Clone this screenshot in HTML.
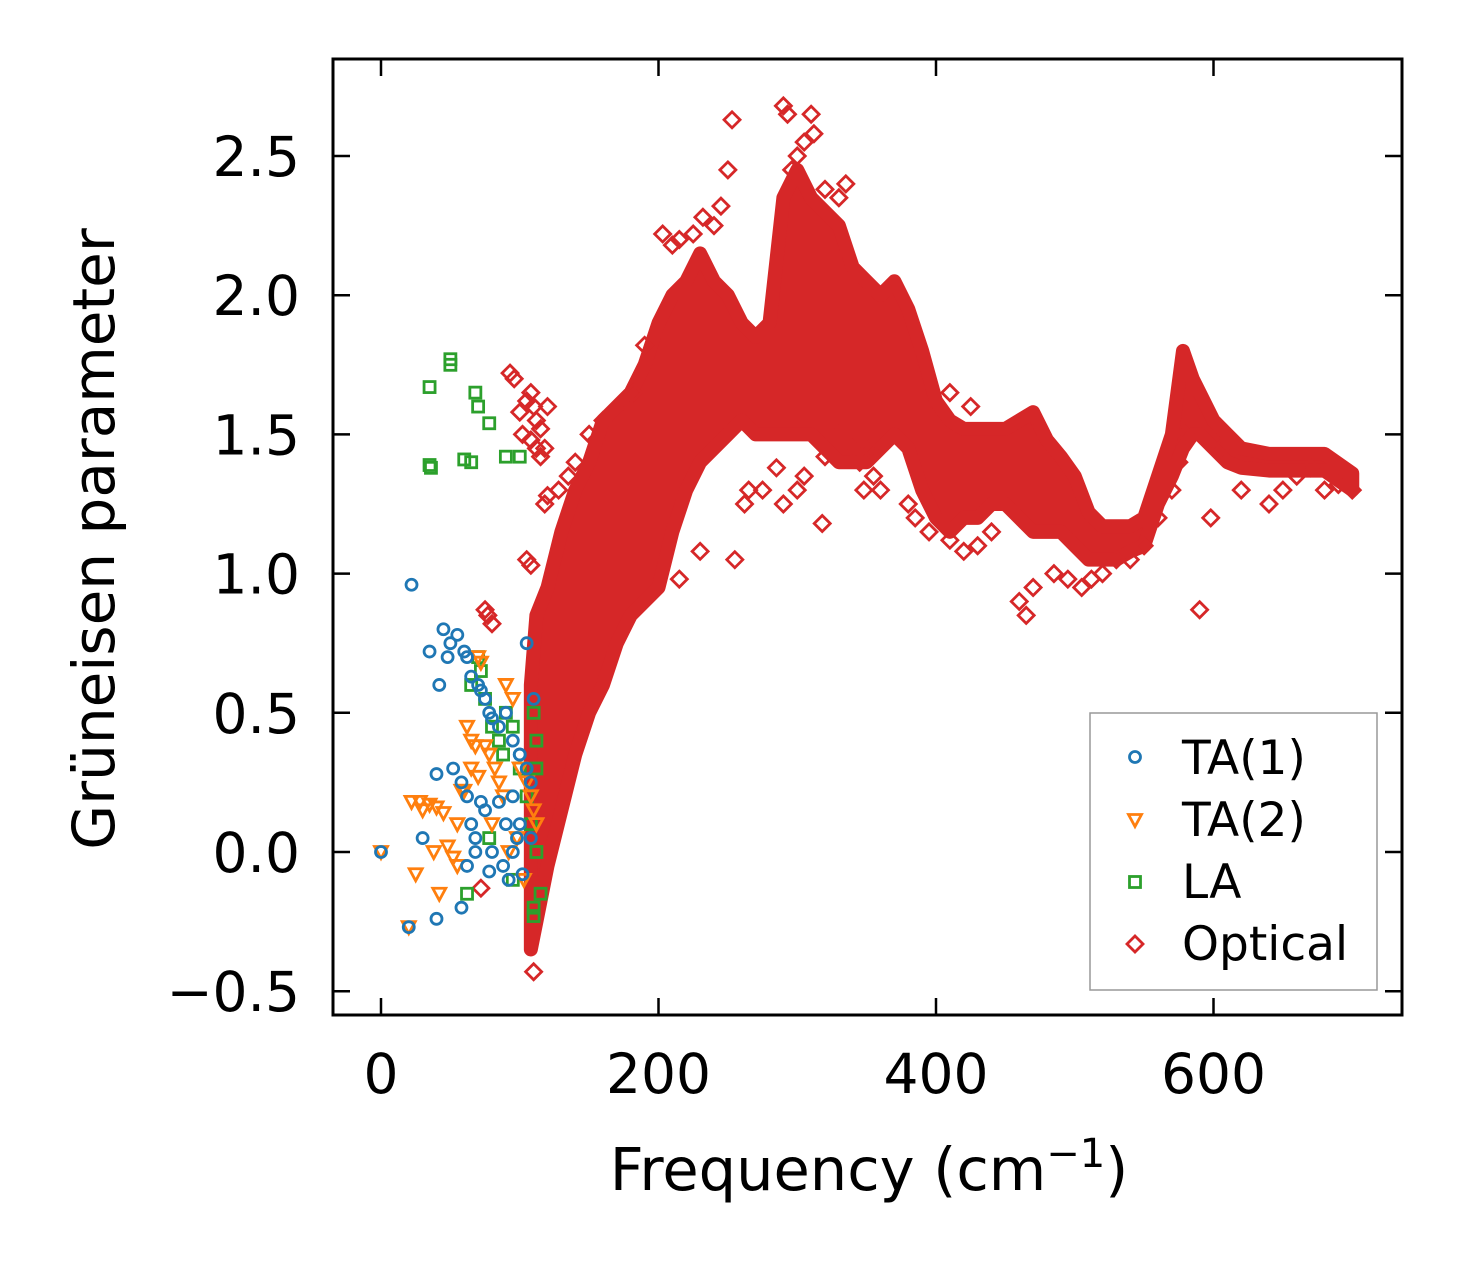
<!DOCTYPE html>
<html><head><meta charset="utf-8"><style>
html,body{margin:0;padding:0;background:#fff;}
svg{display:block;font-family:"DejaVu Sans","Liberation Sans",sans-serif;}
</style></head><body>
<svg id="chart" width="1462" height="1264" viewBox="0 0 1462 1264" xmlns="http://www.w3.org/2000/svg">
<rect x="0" y="0" width="1462" height="1264" fill="#fff"/>
<g id="bandLayer"></g>
<g id="markLayer"></g>
<g id="axisLayer"></g>
<text transform="translate(114,539) rotate(-90)" text-anchor="middle" font-size="58">Grüneisen parameter</text>
<text x="869" y="1190" text-anchor="middle" font-size="59">Frequency (cm<tspan dy="-23" font-size="40">−1</tspan><tspan dy="23">)</tspan></text>
<g>
<rect x="1090" y="713" width="287" height="277" fill="#fff" stroke="#999" stroke-width="1.5"/>
<g id="legendMarks"></g>
<text x="1182" y="774" font-size="47">TA(1)</text>
<text x="1182" y="836" font-size="47">TA(2)</text>
<text x="1182" y="898" font-size="47">LA</text>
<text x="1182" y="960" font-size="47">Optical</text>
</g>
</svg>
<script>
// ---- data ----
const xTicks=[0,200,400,600];
const yTicks=[-0.5,0,0.5,1.0,1.5,2.0,2.5];
const yTickLabels=["−0.5","0.0","0.5","1.0","1.5","2.0","2.5"];
// optical dense band envelope
const bandFreq=[108,112,120,130,140,150,160,170,180,190,200,210,220,230,240,250,260,270,280,290,300,310,320,330,340,350,360,370,380,390,400,410,420,430,440,450,460,470,480,490,500,510,520,530,540,550,560,570,578,585,590,600,610,620,640,660,680,700];
const bandLow=[-0.35,-0.25,-0.05,0.15,0.35,0.5,0.6,0.75,0.85,0.9,0.95,1.15,1.3,1.4,1.45,1.5,1.55,1.5,1.5,1.5,1.5,1.5,1.45,1.4,1.4,1.4,1.45,1.5,1.45,1.3,1.2,1.15,1.2,1.2,1.25,1.25,1.2,1.15,1.15,1.15,1.1,1.05,1.05,1.05,1.08,1.1,1.25,1.35,1.45,1.5,1.5,1.45,1.4,1.38,1.37,1.37,1.37,1.3];
const bandHigh=[0.6,0.85,0.95,1.15,1.3,1.4,1.55,1.6,1.65,1.75,1.9,2.0,2.05,2.15,2.05,2.0,1.9,1.85,1.9,2.35,2.45,2.35,2.3,2.25,2.1,2.05,2.0,2.05,1.95,1.8,1.62,1.55,1.52,1.52,1.52,1.52,1.55,1.58,1.48,1.42,1.35,1.22,1.17,1.17,1.17,1.2,1.35,1.5,1.8,1.7,1.65,1.55,1.5,1.45,1.43,1.43,1.43,1.36];
// optical outliers
const optX=[290,293,310,312,253,250,300,296,305,320,330,335,203,210,215,225,240,232,245,190,182,175,160,150,155,140,135,128,120,118,115,112,110,108,105,93,96,100,102,108,112,115,118,120,75,77,80,72,108,105,110,255,262,275,285,290,300,305,318,320,340,345,355,360,380,385,395,410,420,430,440,460,465,470,485,495,505,512,520,530,540,550,560,570,575,580,590,598,605,620,640,650,660,670,680,690,700,230,215,265,330,348,352,400,410,425,470,480];
const optY=[2.68,2.65,2.65,2.58,2.63,2.45,2.5,2.45,2.55,2.38,2.35,2.4,2.22,2.18,2.2,2.22,2.25,2.28,2.32,1.82,1.65,1.62,1.55,1.5,1.48,1.4,1.35,1.3,1.28,1.25,1.52,1.55,1.6,1.65,1.62,1.72,1.7,1.58,1.5,1.48,1.45,1.42,1.45,1.6,0.87,0.85,0.82,-0.13,1.03,1.05,-0.43,1.05,1.25,1.3,1.38,1.25,1.3,1.35,1.18,1.42,1.45,1.4,1.35,1.3,1.25,1.2,1.15,1.12,1.08,1.1,1.15,0.9,0.85,0.95,1.0,0.98,0.95,0.98,1.0,1.05,1.05,1.1,1.2,1.3,1.4,1.5,0.87,1.2,1.45,1.3,1.25,1.3,1.35,1.38,1.3,1.32,1.3,1.08,0.98,1.3,1.5,1.3,1.45,1.6,1.65,1.6,1.5,1.35];
// acoustic branches
const ta1X=[0,20,40,45,50,55,60,62,65,70,72,75,78,80,85,90,95,100,105,108,110,22,30,35,42,48,52,58,62,65,68,72,75,80,88,92,95,98,100,102,105,40,58,62,68,78,85,90,95,100,108];
const ta1Y=[0,-0.27,-0.24,0.8,0.75,0.78,0.72,0.7,0.63,0.6,0.58,0.55,0.5,0.48,0.45,0.5,0.4,0.35,0.3,0.25,0.55,0.96,0.05,0.72,0.6,0.7,0.3,0.25,0.2,0.1,0.05,0.18,0.15,0.0,-0.05,-0.1,0.0,0.05,0.1,-0.08,0.75,0.28,-0.2,-0.05,0.0,-0.07,0.18,0.1,0.2,0.35,0.05];
const ta2X=[0,20,22,25,30,35,40,45,48,52,55,58,60,62,65,68,70,72,75,78,82,85,88,90,95,100,105,108,110,112,28,38,42,55,65,70,80,92,98,103];
const ta2Y=[0,-0.27,0.18,-0.08,0.15,0.17,0.16,0.14,0.02,-0.02,0.1,0.22,0.22,0.45,0.4,0.38,0.7,0.68,0.38,0.35,0.3,0.25,0.2,0.6,0.55,0.3,0.25,0.2,0.15,0.1,0.18,0.0,-0.15,-0.05,0.3,0.27,0.1,0.0,0.05,-0.1];
const laX=[35,35,36,50,50,60,65,68,70,78,90,100,65,70,72,75,80,85,88,90,95,100,105,108,110,112,112,110,115,110,112,78,95,62];
const laY=[1.67,1.39,1.38,1.77,1.75,1.41,1.4,1.65,1.6,1.54,1.42,1.42,0.6,0.7,0.65,0.55,0.45,0.4,0.35,0.5,0.45,0.3,0.2,0.1,0.5,0.4,0.3,-0.2,-0.15,-0.23,0.0,0.05,-0.1,-0.15];

// ---- axes functions ----
const X0=333,X1=1402,Y0=59,Y1=1015;
const xs=v=>381+v*1.3875;
const ys=v=>852-v*278.4;
const NS="http://www.w3.org/2000/svg";
function mk(tag,attrs,parent){const e=document.createElementNS(NS,tag);for(const k in attrs)e.setAttribute(k,attrs[k]);parent.appendChild(e);return e;}
const band=document.getElementById('bandLayer');
const marks=document.getElementById('markLayer');
const axis=document.getElementById('axisLayer');
const RED="#d62728",BLUE="#1f77b4",ORANGE="#ff7f0e",GREEN="#2ca02c";

let pts=[];
for(let i=0;i<bandFreq.length;i++)pts.push(xs(bandFreq[i])+","+ys(bandHigh[i]));
for(let i=bandFreq.length-1;i>=0;i--)pts.push(xs(bandFreq[i])+","+ys(bandLow[i]));
const poly=mk('polygon',{points:pts.join(' '),fill:RED,stroke:RED,'stroke-width':14,'stroke-linejoin':'round'},band);



function marker(type,cx,cy,color,parent){
  let e;
  if(type==='o')e=mk('circle',{cx:cx,cy:cy,r:5.5,fill:'none',stroke:color,'stroke-width':2.8},parent);
  else if(type==='v')e=mk('polygon',{points:`${cx-6.5},${cy-5.5} ${cx+6.5},${cy-5.5} ${cx},${cy+6.5}`,fill:'none',stroke:color,'stroke-width':2.8},parent);
  else if(type==='s')e=mk('rect',{x:cx-5.5,y:cy-5.5,width:11,height:11,fill:'none',stroke:color,'stroke-width':2.8},parent);
  else e=mk('polygon',{points:`${cx},${cy-8} ${cx+8},${cy} ${cx},${cy+8} ${cx-8},${cy}`,fill:'none',stroke:color,'stroke-width':2.8},parent);
  return e;
}
for(let i=0;i<optX.length;i++){const e=marker('d',xs(optX[i]),ys(optY[i]),RED,marks);

}
for(let i=0;i<laX.length;i++){const e=marker('s',xs(laX[i]),ys(laY[i]),GREEN,marks);

}
for(let i=0;i<ta2X.length;i++){const e=marker('v',xs(ta2X[i]),ys(ta2Y[i]),ORANGE,marks);

}
for(let i=0;i<ta1X.length;i++){const e=marker('o',xs(ta1X[i]),ys(ta1Y[i]),BLUE,marks);

}

const fr=mk('rect',{x:X0,y:Y0,width:X1-X0,height:Y1-Y0,fill:'none',stroke:'#000','stroke-width':3},axis);


xTicks.forEach(v=>{const x=xs(v);
  mk('line',{x1:x,y1:Y1,x2:x,y2:Y1-17,stroke:'#000','stroke-width':2.5},axis);
  mk('line',{x1:x,y1:Y0,x2:x,y2:Y0+17,stroke:'#000','stroke-width':2.5},axis);
  const t=mk('text',{x:x,y:1093,'text-anchor':'middle','font-size':55},axis);t.textContent=String(v);
  
  });
yTicks.forEach((v,i)=>{const y=ys(v);
  mk('line',{x1:X0,y1:y,x2:X0+17,y2:y,stroke:'#000','stroke-width':2.5},axis);
  mk('line',{x1:X1,y1:y,x2:X1-17,y2:y,stroke:'#000','stroke-width':2.5},axis);
  const t=mk('text',{x:300,y:y+20,'text-anchor':'end','font-size':55},axis);t.textContent=yTickLabels[i];
  
  });

const lg=document.getElementById('legendMarks');
[['o',757,BLUE],['v',820,ORANGE],['s',882,GREEN],['d',944,RED]].forEach(a=>{const e=marker(a[0],1135,a[1],a[2],lg);

});
</script>
</body></html>
